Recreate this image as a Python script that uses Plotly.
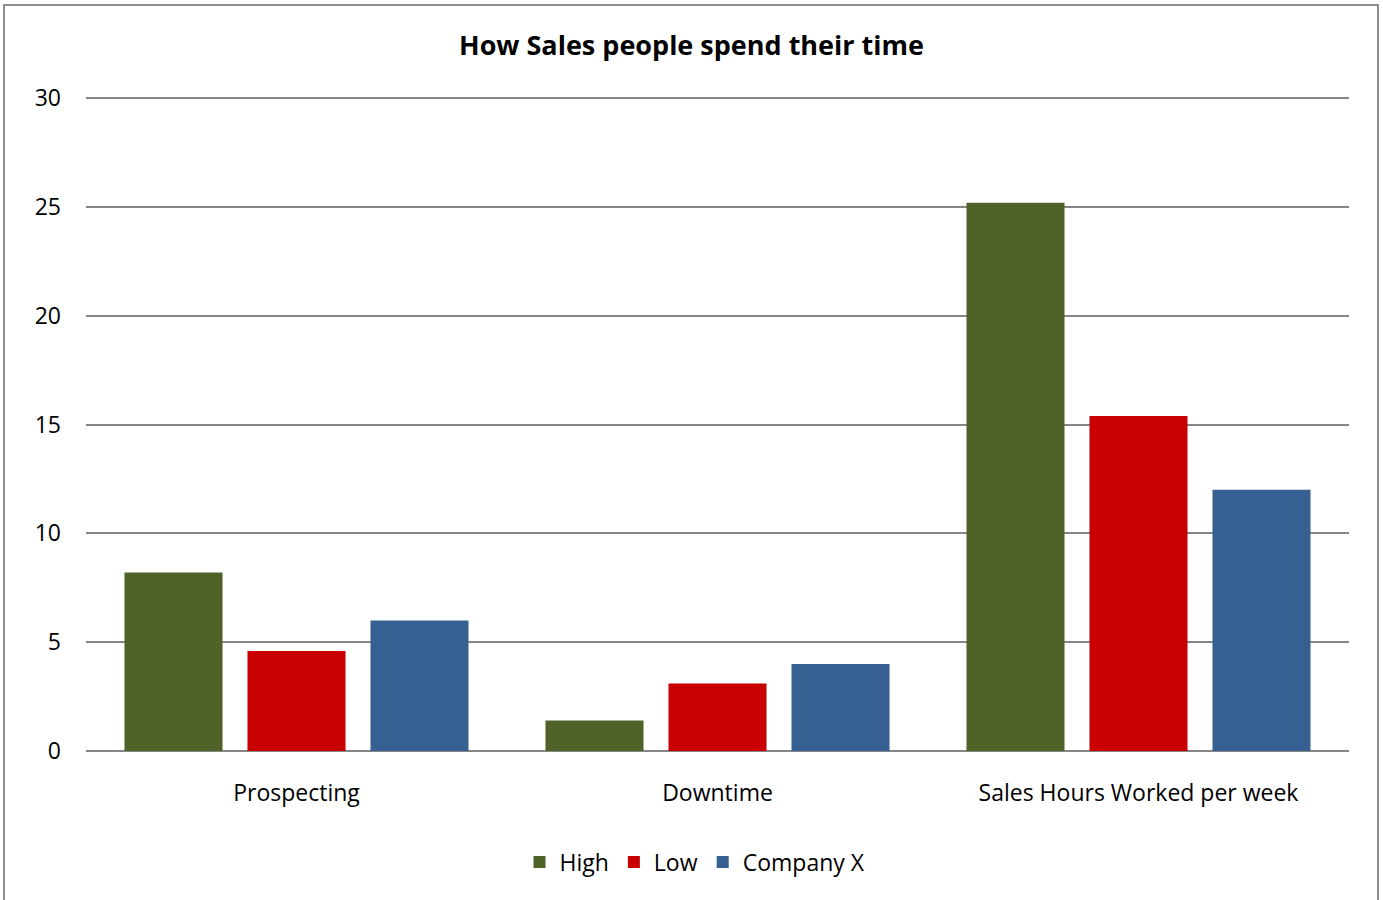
import plotly.graph_objects as go

categories = ["Prospecting", "Downtime", "Sales Hours Worked per week"]
high = [8.2, 1.4, 25.2]
low = [4.6, 3.1, 15.4]
company_x = [6.0, 4.0, 12.0]
series_names = ["High", "Low", "Company X"]
colors = ["#4F6228", "#C80000", "#376092"]

W, H = 1383, 900
L, R, T, B = 86, 34, 96, 149
pw, ph = W - L - R, H - T - B

FONT = "Open Sans"

fig = go.Figure()
for name, vals, c in zip(series_names, [high, low, company_x], colors):
    fig.add_trace(go.Bar(x=categories, y=vals, name=name, marker=dict(color=c, line=dict(width=0))))

fig.update_layout(
    width=W, height=H,
    margin=dict(l=L, r=R, t=T, b=B),
    paper_bgcolor="white", plot_bgcolor="white",
    barmode="group", bargap=0.1235, bargroupgap=0.203,
    font=dict(family=FONT, size=23, color="#000000"),
    title=dict(text="<b>How Sales people spend their time</b>", x=0.5, xanchor="center",
               y=1 - 46 / H, yanchor="middle", font=dict(size=27, family=FONT)),
    legend=dict(orientation="h", x=0.5 + (695 - (L + pw / 2)) / pw, xanchor="center",
                y=-(862 - (T + ph)) / ph, yanchor="middle",
                font=dict(size=23), itemwidth=30, traceorder="normal"),
    showlegend=True,
)
fig.update_yaxes(range=[0, 30.1], tickvals=[0, 5, 10, 15, 20, 25, 30], showgrid=True,
                 gridcolor="#868686", gridwidth=1.5,
                 zeroline=True, zerolinecolor="#868686", zerolinewidth=1.5,
                 showline=False, ticks="", ticklabelstandoff=24, tickfont=dict(size=23))
fig.update_xaxes(showgrid=False, showline=False, ticks="", ticklabelstandoff=26, tickfont=dict(size=23))

fig.add_shape(type="rect", xref="paper", yref="paper",
              x0=(4 - L) / pw, x1=(1378 - L) / pw,
              y0=-(906 - (T + ph)) / ph, y1=(T + ph - 5) / ph,
              line=dict(color="#8C8C8C", width=2), fillcolor="rgba(0,0,0,0)", layer="below")

fig.write_html("out.html")
